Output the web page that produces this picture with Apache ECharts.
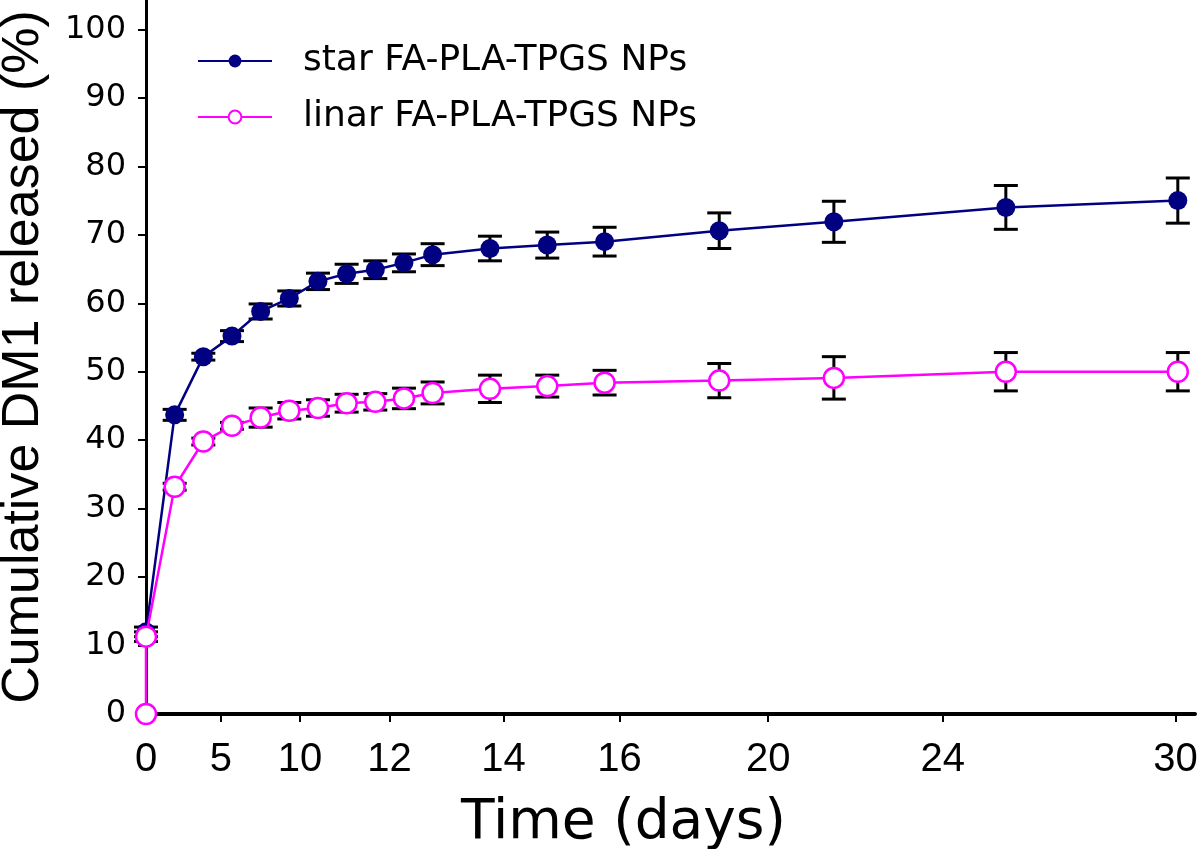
<!DOCTYPE html>
<html>
<head>
<meta charset="utf-8">
<script src="https://cdn.jsdelivr.net/npm/echarts@6/dist/echarts.min.js"></script>
<style>html,body{margin:0;padding:0;background:#fff}#c{width:1200px;height:849px}</style>
</head>
<body>
<div id="c"></div>
<script>
// x positions of the measurement points on the (linear) plot axis
var starDays = [0, 1, 2, 3, 4, 5, 6, 7, 8, 9, 10, 12, 14, 16, 20, 24, 30, 36];
var starMean = [12.0, 43.7, 52.2, 55.2, 58.8, 60.7, 63.2, 64.3, 64.9, 65.9, 67.1, 68.0, 68.5, 69.0, 70.6, 71.9, 74.0, 75.0];
var starErr  = [0.7, 0.8, 0.5, 0.8, 1.1, 1.1, 1.2, 1.4, 1.3, 1.3, 1.6, 1.8, 1.9, 2.1, 2.6, 3.0, 3.2, 3.3];

var linDays = [0, 0, 1, 2, 3, 4, 5, 6, 7, 8, 9, 10, 12, 14, 16, 20, 24, 30, 36];
var linMean = [0, 11.3, 33.2, 39.8, 42.1, 43.3, 44.3, 44.7, 45.4, 45.6, 46.1, 46.9, 47.5, 47.9, 48.4, 48.7, 49.1, 50.0, 50.0];
var linErr  = [0, 0.7, 0.5, 0.5, 0.5, 1.4, 1.2, 1.2, 1.3, 1.2, 1.5, 1.6, 2.0, 1.6, 1.8, 2.5, 3.1, 2.8, 2.8];

// x-axis tick marks as printed on the original figure
var xTickPositions = [0, 2.61, 5.37, 8.5, 12.47, 16.52, 21.71, 27.8, 35.92];
var xTickLabels = ['0', '5', '10', '12', '14', '16', '20', '24', '30'];
var yTicks = [0, 10, 20, 30, 40, 50, 60, 70, 80, 90, 100];

var seriesNames = ['star FA-PLA-TPGS NPs', 'linar FA-PLA-TPGS NPs'];

var FONT = "'Liberation Sans', Arial, sans-serif";
var WIDE = "'DejaVu Sans', 'Liberation Sans', sans-serif";

function pairs(xs, ys) {
  return xs.map(function (x, i) { return [x, ys[i]]; });
}
function errData(xs, ys, es) {
  var out = [];
  xs.forEach(function (x, i) {
    if (es[i] > 0) out.push([x, ys[i] - es[i], ys[i] + es[i]]);
  });
  return out;
}
function errSeries(data) {
  return {
    type: 'custom',
    silent: true,
    z: 3,
    renderItem: function (params, api) {
      var x = api.value(0);
      var pLo = api.coord([x, api.value(1)]);
      var pHi = api.coord([x, api.value(2)]);
      var w = 12;
      var st = { stroke: '#000', lineWidth: 3 };
      return {
        type: 'group',
        children: [
          { type: 'line', shape: { x1: pHi[0], y1: pHi[1], x2: pLo[0], y2: pLo[1] }, style: st },
          { type: 'line', shape: { x1: pHi[0] - w, y1: pHi[1], x2: pHi[0] + w, y2: pHi[1] }, style: st },
          { type: 'line', shape: { x1: pLo[0] - w, y1: pLo[1], x2: pLo[0] + w, y2: pLo[1] }, style: st }
        ]
      };
    },
    data: data
  };
}

var chart = echarts.init(document.getElementById('c'), null, { renderer: 'canvas' });
chart.setOption({
  animation: false,
  backgroundColor: '#fff',
  textStyle: { fontFamily: FONT },
  grid: { left: 146, right: 5, top: 0, bottom: 135, containLabel: false, outerBoundsMode: 'none' },
  legend: {
    left: 192,
    top: 37,
    orient: 'vertical',
    itemWidth: 74,
    itemHeight: 16,
    itemGap: 18,
    data: seriesNames,
    textStyle: { fontFamily: WIDE, fontSize: 36, color: '#000', lineHeight: 38, padding: [0, 0, 0, 26] }
  },
  xAxis: {
    type: 'value',
    min: 0,
    max: 36.6,
    name: 'Time (days)',
    nameLocation: 'middle',
    nameGap: 82,
    nameTextStyle: { fontFamily: WIDE, fontSize: 55, color: '#000', padding: [0, 94, 0, 0] },
    axisLine: { lineStyle: { color: '#000', width: 4 } },
    axisTick: { customValues: xTickPositions, length: 8, lineStyle: { color: '#000', width: 2 } },
    axisLabel: {
      customValues: xTickPositions,
      margin: 26,
      fontFamily: FONT,
      fontSize: 40,
      color: '#000',
      formatter: function (v) {
        for (var i = 0; i < xTickPositions.length; i++) {
          if (Math.abs(xTickPositions[i] - v) < 1e-6) return xTickLabels[i];
        }
        return '';
      }
    },
    splitLine: { show: false }
  },
  yAxis: {
    type: 'value',
    min: 0,
    max: 104.3,
    name: 'Cumulative DM1 released (%)',
    nameLocation: 'middle',
    nameGap: 96,
    nameRotate: 90,
    nameTextStyle: { fontFamily: FONT, fontSize: 52, color: '#000' },
    axisLine: { show: true, lineStyle: { color: '#000', width: 3 } },
    axisTick: { show: true, customValues: yTicks, length: 8, lineStyle: { color: '#000', width: 2 } },
    axisLabel: { customValues: yTicks, margin: 20, fontFamily: WIDE, fontSize: 32, color: '#000' },
    splitLine: { show: false }
  },
  series: [
    errSeries(errData(starDays, starMean, starErr)),
    errSeries(errData(linDays, linMean, linErr)),
    {
      name: seriesNames[0],
      type: 'line',
      z: 4,
      data: pairs(starDays, starMean),
      symbol: 'circle',
      symbolSize: 19,
      lineStyle: { color: '#000080', width: 2.5 },
      itemStyle: { color: '#000080', borderWidth: 0 }
    },
    {
      name: seriesNames[1],
      type: 'line',
      z: 5,
      data: pairs(linDays, linMean),
      symbol: 'circle',
      symbolSize: 20,
      lineStyle: { color: '#ff00ff', width: 2.5 },
      itemStyle: { color: '#ffffff', borderColor: '#ff00ff', borderWidth: 2.5 }
    }
  ]
});
</script>
</body>
</html>
